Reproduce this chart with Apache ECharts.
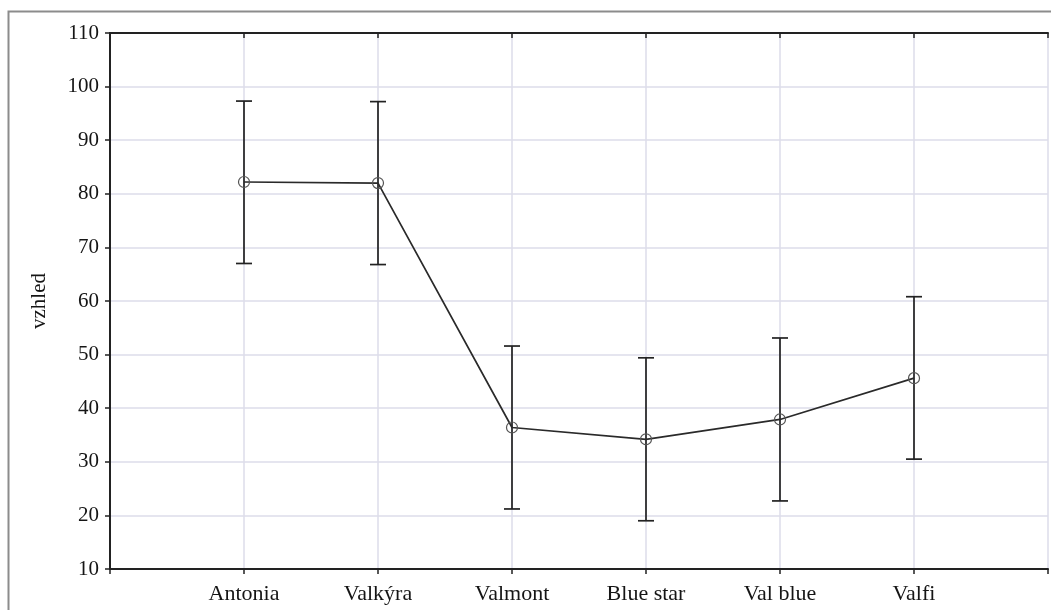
<!DOCTYPE html>
<html><head><meta charset="utf-8">
<script src="https://cdn.jsdelivr.net/npm/echarts@6/dist/echarts.min.js"></script>
<style>html,body{margin:0;padding:0;background:#fff}#c{width:1051px;height:610px}</style>
</head><body><div id="c"></div>
<script>
const categories = ['Antonia', 'Valkýra', 'Valmont', 'Blue star', 'Val blue', 'Valfi'];
const means = [82.2, 82.0, 36.4, 34.2, 37.9, 45.6];
const lower = [67.0, 66.8, 21.2, 19.0, 22.7, 30.5];
const upper = [97.3, 97.2, 51.6, 49.4, 53.1, 60.8];
const yTicks = [10, 20, 30, 40, 50, 60, 70, 80, 90, 100, 110];
const yName = 'vzhled';

const font = 'Liberation Serif';
const chart = echarts.init(document.getElementById('c'), null, {renderer: 'canvas'});
const lineData = means.map((m, i) => [i + 1, m]);
const errData = means.map((m, i) => [i + 1, lower[i], upper[i]]);

chart.setOption({
  animation: false,
  backgroundColor: '#fff',
  graphic: [{
    type: 'rect', shape: {x: 8.5, y: 11.5, width: 1100, height: 700},
    style: {fill: 'none', stroke: '#8c8c8c', lineWidth: 2}, z: -1
  }],
  grid: {left: 110, top: 33, right: 1, bottom: 41, show: false},
  xAxis: [{
    type: 'value', min: 0, max: categories.length + 1, interval: 1,
    axisLine: {show: true, lineStyle: {color: '#222', width: 2}},
    axisTick: {show: true, length: 5, lineStyle: {color: '#222', width: 1.5}},
    axisLabel: {
      show: true, margin: 14, color: '#151515', fontFamily: font, fontSize: 22,
      formatter: v => (v >= 1 && v <= categories.length) ? categories[v - 1] : ''
    },
    splitLine: {show: true, lineStyle: {color: '#dcdcea', width: 1.5}}
  }, {
    type: 'value', position: 'top', min: 0, max: categories.length + 1, interval: 1,
    axisLine: {show: true, lineStyle: {color: '#222', width: 2}},
    axisTick: {show: true, inside: true, length: 5, lineStyle: {color: '#222', width: 1.5}},
    axisLabel: {show: false}, splitLine: {show: false}
  }],
  yAxis: [{
    type: 'value', min: 10, max: 110, interval: 10,
    name: yName, nameLocation: 'middle', nameGap: 60, nameRotate: 90,
    nameTextStyle: {color: '#151515', fontFamily: font, fontSize: 21},
    axisLine: {show: true, lineStyle: {color: '#222', width: 2}},
    axisTick: {show: true, length: 5, lineStyle: {color: '#222', width: 1.5}},
    axisLabel: {color: '#151515', fontFamily: font, fontSize: 21, margin: 11,
      formatter: v => yTicks.includes(v) ? String(v) : ''},
    splitLine: {show: true, lineStyle: {color: '#dcdcea', width: 1.5}}
  }, {
    type: 'value', position: 'right', min: 10, max: 110, interval: 10,
    axisLine: {show: true, lineStyle: {color: '#222', width: 2}},
    axisTick: {show: true, inside: true, length: 5, lineStyle: {color: '#222', width: 1.5}},
    axisLabel: {show: false}, splitLine: {show: false}
  }],
  series: [{
    type: 'custom', data: errData, z: 3,
    renderItem: (params, api) => {
      const x = api.value(0);
      const lo = api.coord([x, api.value(1)]);
      const hi = api.coord([x, api.value(2)]);
      const w = 8;
      const st = {stroke: '#222', lineWidth: 1.7, fill: 'none'};
      return {type: 'group', children: [
        {type: 'line', shape: {x1: lo[0], y1: lo[1], x2: hi[0], y2: hi[1]}, style: st},
        {type: 'line', shape: {x1: lo[0] - w, y1: lo[1], x2: lo[0] + w, y2: lo[1]}, style: st},
        {type: 'line', shape: {x1: hi[0] - w, y1: hi[1], x2: hi[0] + w, y2: hi[1]}, style: st}
      ]};
    }
  }, {
    type: 'line', data: lineData, z: 4,
    symbol: 'circle', symbolSize: 11, showSymbol: true,
    lineStyle: {color: '#2a2a2a', width: 1.7},
    itemStyle: {color: 'rgba(255,255,255,0)', borderColor: '#555', borderWidth: 1.2}
  }]
});
</script></body></html>
